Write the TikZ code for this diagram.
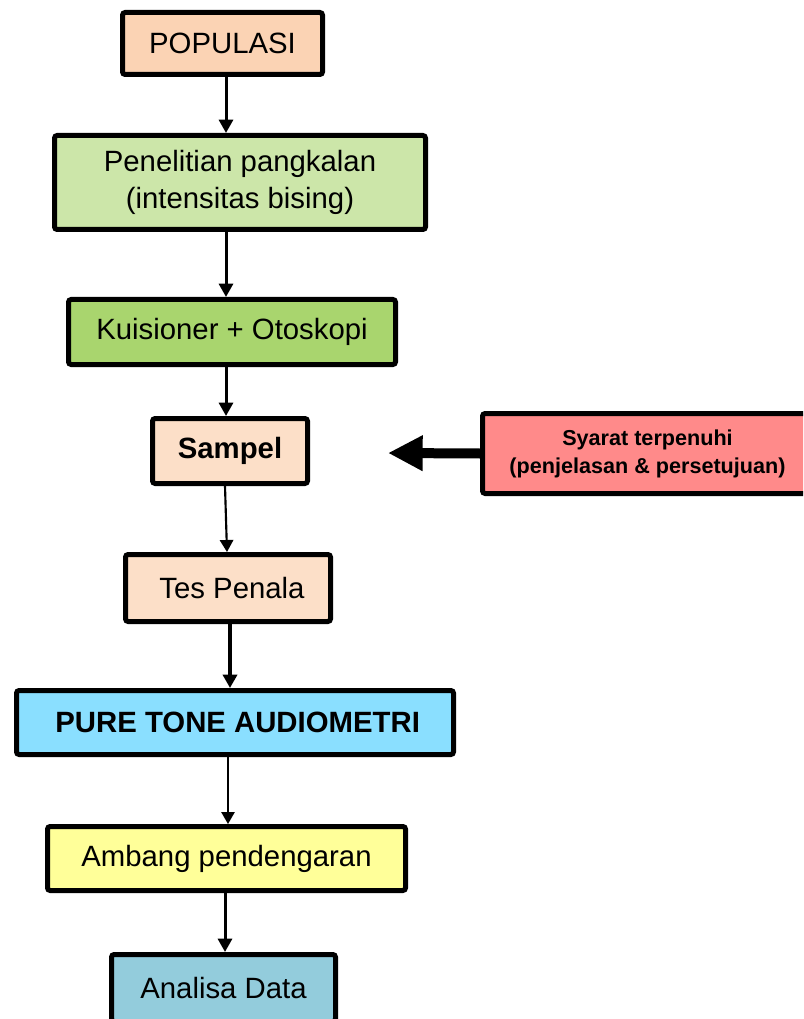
\documentclass[tikz,border=0pt]{standalone}
\usepackage{fontspec}
\setmainfont{Liberation Sans}
\usetikzlibrary{arrows.meta}
\definecolor{cpop}{HTML}{FBD3B4}
\definecolor{cpen}{HTML}{CCE6A9}
\definecolor{ckui}{HTML}{A9D56E}
\definecolor{csam}{HTML}{FCDFC8}
\definecolor{csya}{HTML}{FF8A8A}
\definecolor{cpure}{HTML}{8ADFFF}
\definecolor{camb}{HTML}{FFFF99}
\definecolor{cana}{HTML}{93CCDC}
\tikzset{
  box/.style={draw=black, line width=3.75pt, rounded corners=2pt, inner sep=0pt,
    align=center, font=\fontsize{22}{27.75}\selectfont},
  arr/.style={-{Triangle[length=10pt,width=10.5pt]}, line width=2.25pt},
  thinarr/.style={-{Triangle[length=9pt,width=10pt]}, line width=1.3pt},
  bigarr/.style={-{Triangle[length=26pt,width=25pt]}, line width=7.5pt}
}
\begin{document}
\begin{tikzpicture}[x=0.75pt,y=-0.75pt]
\useasboundingbox (0,0) rectangle (803,1019);
\clip (0,0) rectangle (803,1019);
\node[box, fill=cpop, minimum width=150pt, minimum height=46.5pt] (pop) at (222.5,43.5) {POPULASI};
\node[box, fill=cpen, minimum width=278.25pt, minimum height=70.5pt] (pen) at (240,182.5) {Penelitian pangkalan\\(intensitas bising)};
\node[box, fill=ckui, minimum width=245.25pt, minimum height=48.75pt] (kui) at (232,332) {Kuisioner + Otoskopi};
\node[box, fill=csam, minimum width=116.25pt, minimum height=48.75pt, font=\fontsize{22}{27.75}\selectfont\bfseries] (sam) at (230,451) {Sampel};
\node[box, fill=csya, minimum width=247.5pt, minimum height=60pt, font=\fontsize{16.2}{21}\selectfont\bfseries] (sya) at (647.5,453.5) {Syarat terpenuhi\\(penjelasan \& persetujuan)};
\node[box, fill=csam, minimum width=153.75pt, minimum height=50.25pt] (tes) at (228,588) {\hspace{6pt}Tes Penala};
\node[box, fill=cpure, minimum width=327.75pt, minimum height=48pt, font=\fontsize{22}{27.75}\selectfont\bfseries] (pure) at (235,722.5) {\hspace{4pt}PURE TONE AUDIOMETRI};
\node[box, fill=camb, minimum width=268.5pt, minimum height=48pt] (amb) at (226.5,858.5) {Ambang pendengaran};
\node[box, fill=cana, minimum width=168pt, minimum height=50.25pt] (ana) at (223.5,988) {Analisa Data};
\coordinate (tip) at (388,453);
\draw[arr] (pop.south -| 226,0) -- (pen.north -| 226,0);
\draw[arr] (pen.south -| 226,0) -- (kui.north -| 226,0);
\draw[arr] (kui.south -| 226,0) -- (sam.north -| 226,0);
\draw[thinarr, line width=1.6pt] (sam.south -| 225,0) -- (tes.north -| 227,0);
\draw[arr, line width=3pt] (tes.south -| 230,0) -- (pure.north -| 230,0);
\draw[thinarr] (pure.south -| 228,0) -- (amb.north -| 228,0);
\draw[arr] (amb.south -| 225,0) -- (ana.north -| 225,0);
\draw[bigarr] (sya.west) -- (tip);
\end{tikzpicture}
\end{document}
